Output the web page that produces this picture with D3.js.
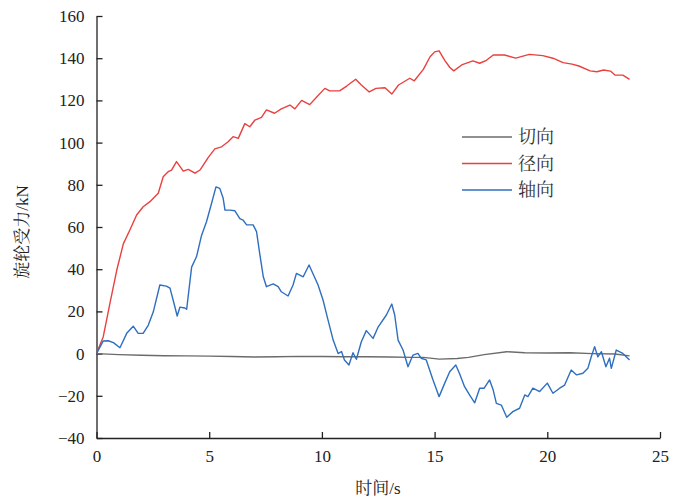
<!DOCTYPE html>
<html>
<head>
<meta charset="utf-8">
<script src="https://cdn.jsdelivr.net/npm/d3@7"></script>
<style>
  body { margin: 0; background: #fff; }
  .axis path, .axis line { stroke: #222; stroke-width: 1.3; }
  .lbl { font-family: "Liberation Serif", "Noto Serif CJK SC", "Noto Sans CJK SC", serif; font-size: 17px; fill: #222; }
</style>
</head>
<body>
<script>
// series data: [time (s), force (kN)]
var tangential = [[0,0],[1,-0.5],[2,-0.8],[3,-1],[4,-1.1],[5,-1.2],[6,-1.4],[7,-1.6],[8,-1.5],[9,-1.3],[10,-1.4],[11,-1.5],[12,-1.5],[13,-1.6],[14,-1.8],[14.5,-1.8],[15.2,-2.6],[16,-2.3],[16.5,-1.8],[17.2,-0.5],[18.2,0.9],[19,0.4],[20,0.3],[21,0.4],[22,0],[23,-0.2],[23.65,-1.1]];

var radial = [[0,0],[0.3,8],[0.6,24],[0.9,39.6],[1.19,52],[1.48,58.6],[1.78,65.7],[2.07,69.6],[2.37,72],[2.74,76],[2.96,83.8],[3.18,86.2],[3.33,87],[3.55,91],[3.85,86.5],[4.07,87.3],[4.37,85.5],[4.59,87],[4.96,93],[5.25,97],[5.55,98],[5.84,100.4],[6.06,102.8],[6.29,102],[6.58,109],[6.8,107.5],[7.03,110.7],[7.32,112],[7.54,115.5],[7.9,113.9],[8.2,116],[8.58,117.8],[8.8,116],[9.1,120],[9.46,118],[9.76,121.5],[10.13,125.7],[10.35,124.5],[10.8,124.6],[11.1,126.8],[11.5,130],[11.75,127.3],[12.1,124],[12.4,125.7],[12.8,126],[13.1,123],[13.4,127.3],[13.9,130.5],[14.1,129.3],[14.5,134.7],[14.8,140.7],[15.0,143],[15.2,143.5],[15.45,139],[15.67,135.7],[15.85,134],[16.2,136.8],[16.7,138.7],[17.0,137.6],[17.3,139],[17.6,141.5],[18.1,141.5],[18.6,140],[19.2,141.8],[19.8,141.2],[20.25,140],[20.7,137.9],[21.1,137.2],[21.4,136.3],[21.9,134],[22.2,133.6],[22.5,134.4],[22.8,133.9],[23.0,132],[23.35,132],[23.65,130]];

var axial = [[0,0],[0.3,6],[0.52,6.1],[0.75,5.2],[1.04,2.8],[1.34,9.6],[1.63,13],[1.85,9.6],[2.07,9.6],[2.3,13.5],[2.52,19.8],[2.81,32.5],[3.1,32],[3.26,31],[3.4,25.4],[3.58,17.8],[3.7,22],[3.92,21.6],[4.0,21],[4.22,41],[4.44,46],[4.66,56],[4.88,62.5],[5.1,71],[5.3,79],[5.47,78.3],[5.62,73.6],[5.7,68],[5.92,68],[6.14,67.7],[6.36,64],[6.5,63.3],[6.66,61],[6.95,61],[7.1,57.8],[7.24,47.5],[7.4,36.4],[7.54,31.7],[7.84,33],[8.06,31.7],[8.2,29.3],[8.5,27.3],[8.72,32.5],[8.87,38],[9.17,36.4],[9.43,42],[9.6,38],[9.83,32.5],[10.05,25.4],[10.27,16],[10.5,6.4],[10.72,0],[10.87,1],[11.0,-3],[11.2,-5.4],[11.38,0.4],[11.53,-2.7],[11.75,5.6],[11.97,10.9],[12.27,7.2],[12.5,12.7],[12.86,18.3],[13.1,23.5],[13.23,18.3],[13.38,6.4],[13.6,1.7],[13.82,-6.2],[14.04,-0.7],[14.26,0.1],[14.4,-2.2],[14.63,-3],[14.93,-12.5],[15.2,-20.4],[15.45,-14],[15.67,-8.6],[15.94,-5.4],[16.1,-9.3],[16.33,-15.7],[16.55,-19.6],[16.78,-23.3],[17.0,-16.4],[17.2,-16.4],[17.44,-12.5],[17.6,-17.3],[17.74,-23.6],[17.96,-24.4],[18.2,-30.2],[18.47,-27.5],[18.77,-25.9],[19.0,-19.6],[19.14,-20.4],[19.36,-16.4],[19.66,-18],[20.0,-14],[20.25,-18.8],[20.55,-16.4],[20.77,-14.9],[21.06,-7.8],[21.3,-10.1],[21.58,-9.3],[21.8,-7],[21.95,-1.5],[22.1,3.3],[22.24,-1.5],[22.4,0.9],[22.6,-6.2],[22.76,-2.2],[22.84,-7],[23.06,1.7],[23.35,0.1],[23.65,-3]];

var seriesNames = ["切向", "径向", "轴向"];
var seriesColors = ["#6b6b6b", "#e8413f", "#2e6fbf"];
var xTicks = [0, 5, 10, 15, 20, 25];
var yTicks = [-40, -20, 0, 20, 40, 60, 80, 100, 120, 140, 160];

var width = 680, height = 501;
var svg = d3.select("body").append("svg")
    .attr("width", width)
    .attr("height", height);

var x = d3.scaleLinear().domain([0, 25]).range([96.5, 660]);
var y = d3.scaleLinear().domain([-40, 160]).range([438, 16]);

// axes, ticks point inward
var xAxis = svg.append("g")
    .attr("class", "axis")
    .attr("transform", "translate(0,438)")
    .call(d3.axisBottom(x).tickValues(xTicks).tickSize(-6).tickPadding(12).tickSizeOuter(0));

var yAxis = svg.append("g")
    .attr("class", "axis")
    .attr("transform", "translate(96.5,0)")
    .call(d3.axisLeft(y).tickValues(yTicks).tickSize(-6).tickPadding(12).tickSizeOuter(0)
        .tickFormat(function(d){ return d < 0 ? "\u2212" + Math.abs(d) : d; }));

[xAxis, yAxis].forEach(function(g){
    g.attr("font-family", "Liberation Serif, Times New Roman, serif")
     .attr("font-size", 17);
    g.selectAll("text").style("fill", "#222");
});

var line = d3.line()
    .x(function(d){ return x(d[0]); })
    .y(function(d){ return y(d[1]); });

[tangential, radial, axial].forEach(function(s, i){
    svg.append("path")
        .datum(s)
        .attr("fill", "none")
        .attr("stroke", seriesColors[i])
        .attr("stroke-width", 1.4)
        .attr("stroke-linejoin", "round")
        .attr("d", line);
});

// legend
var legend = svg.append("g").attr("transform", "translate(462,137)");
seriesNames.forEach(function(n, i){
    var g = legend.append("g").attr("transform", "translate(0," + (i * 26.5) + ")");
    g.append("line").attr("x1", 0).attr("x2", 50).attr("y1", 0).attr("y2", 0)
        .attr("stroke", seriesColors[i]).attr("stroke-width", 1.4);
    g.append("text").attr("class", "lbl").attr("x", 56).attr("y", 0)
        .attr("dy", "0.35em").style("font-size", "18px").style("fill", "#333").text(n);
});

// axis titles
svg.append("text").attr("class", "lbl")
    .attr("x", 378).attr("y", 494)
    .attr("text-anchor", "middle")
    .text("时间/s");

svg.append("text").attr("class", "lbl")
    .attr("transform", "translate(28,232) rotate(-90)")
    .attr("text-anchor", "middle")
    .text("旋轮受力/kN");
</script>
</body>
</html>
